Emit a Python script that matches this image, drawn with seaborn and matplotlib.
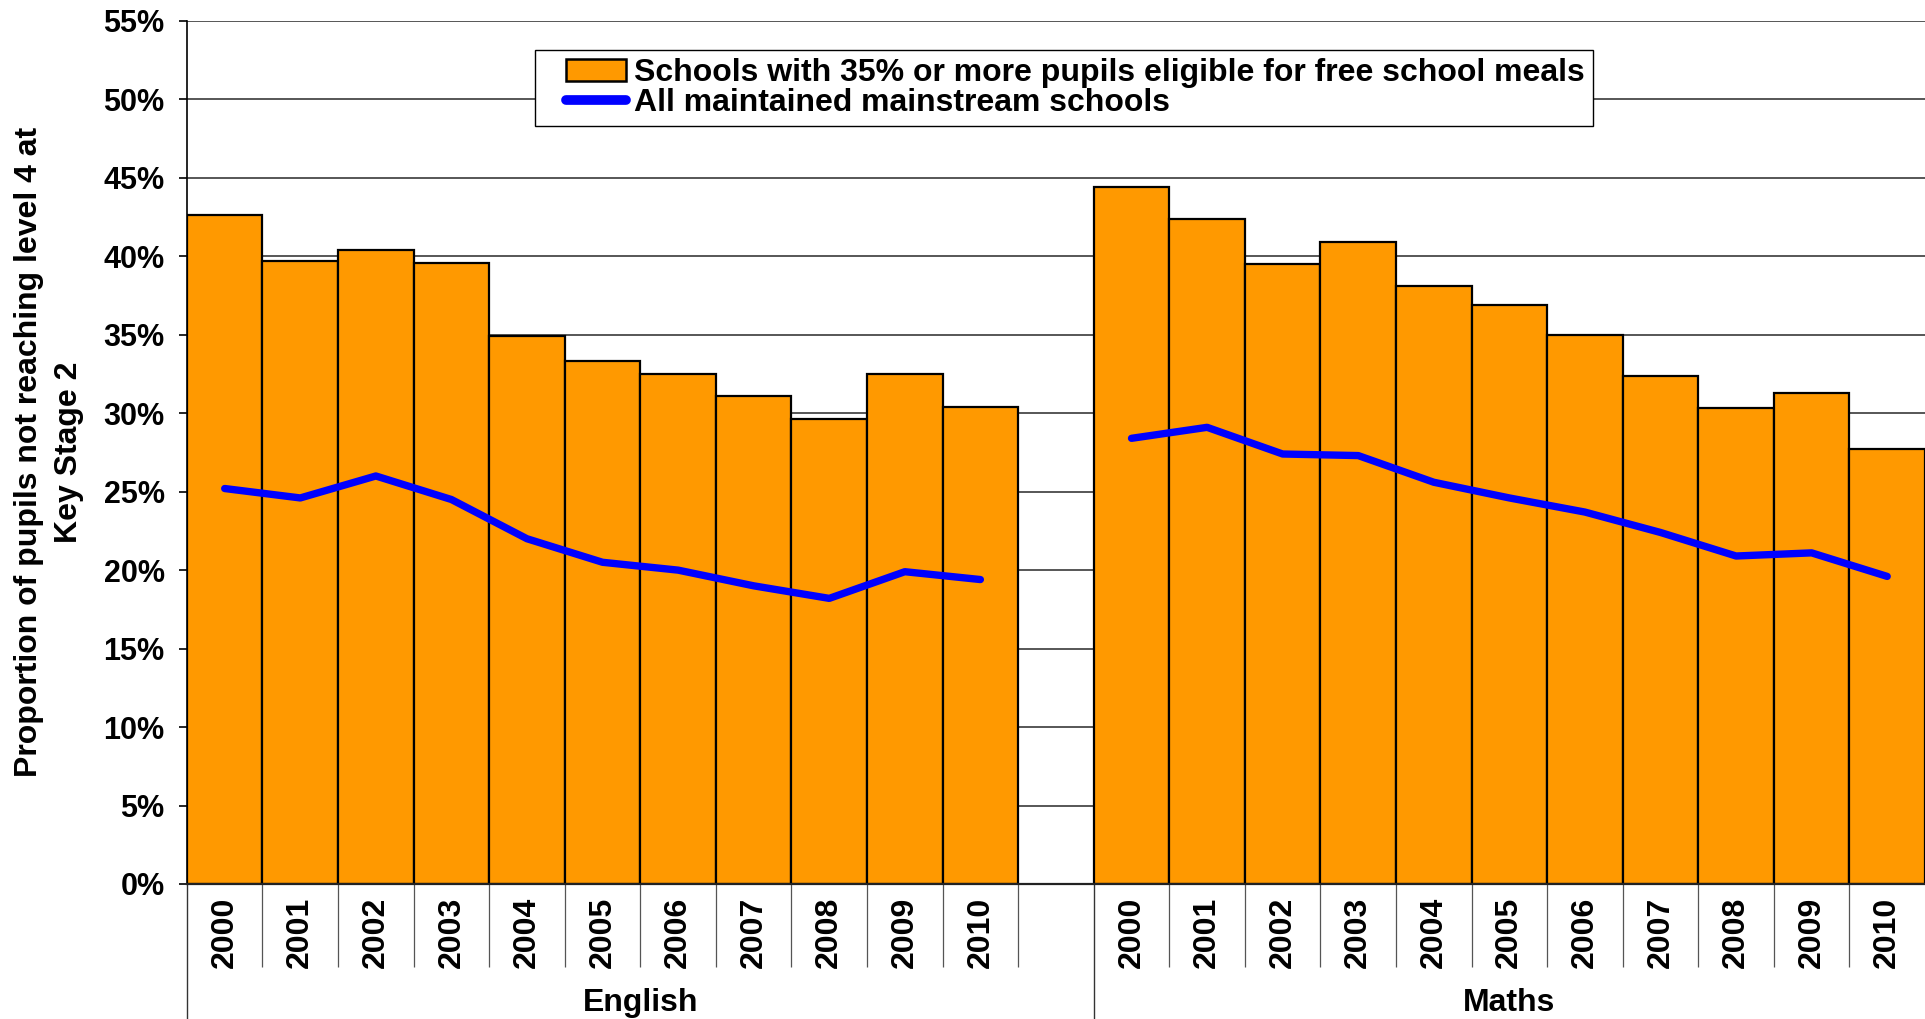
import numpy as np
import pandas as pd
import seaborn as sns
import matplotlib.pyplot as plt
from matplotlib.patches import Patch
from matplotlib.lines import Line2D
from matplotlib.legend_handler import HandlerPatch, HandlerLine2D
from matplotlib.ticker import FuncFormatter

years = ['2000', '2001', '2002', '2003', '2004', '2005', '2006', '2007', '2008', '2009', '2010']
subjects = ['English', 'Maths']

# % of pupils not reaching level 4, schools with 35%+ FSM
english_fsm = [42.6, 39.7, 40.4, 39.6, 34.9, 33.3, 32.5, 31.1, 29.6, 32.5, 30.4]
maths_fsm = [44.4, 42.4, 39.5, 40.9, 38.1, 36.9, 35.0, 32.4, 30.3, 31.3, 27.7]

# all maintained mainstream schools
english_all = [25.2, 24.6, 26.0, 24.5, 22.0, 20.5, 20.0, 19.0, 18.2, 19.9, 19.4]
maths_all = [28.4, 29.1, 27.4, 27.3, 25.6, 24.6, 23.7, 22.4, 20.9, 21.1, 19.6]

bar_label = 'Schools with 35% or more pupils eligible for free school meals'
line_label = 'All maintained mainstream schools'

sns.set_theme(style='white')
plt.rcParams['font.family'] = ['Liberation Sans', 'DejaVu Sans']
plt.rcParams['font.weight'] = 'bold'
for k in ['text.color', 'axes.labelcolor', 'xtick.color', 'ytick.color']:
    plt.rcParams[k] = 'black'

n = len(years)
# one empty slot between the two subjects
pos = list(range(n)) + list(range(n + 1, 2 * n + 1))
df = pd.DataFrame({
    'pos': pos,
    'fsm': english_fsm + maths_fsm,
    'all': english_all + maths_all,
    'subject': [subjects[0]] * n + [subjects[1]] * n,
})

fig = plt.figure(figsize=(19.25, 10.19), dpi=100)
ax = fig.add_axes([0.0971, 0.1325, 0.9029, 0.847])

sns.barplot(data=df, x='pos', y='fsm', native_scale=True, width=1, color='#FF9900',
            saturation=1, edgecolor='black', linewidth=1.6, ax=ax, zorder=2)
sns.lineplot(data=df, x='pos', y='all', units='subject', estimator=None, color='#0000FF',
             linewidth=5.3, ax=ax, zorder=3, legend=False)

ax.set_xlim(-0.5, 2 * n + 0.5)
ax.set_ylim(0, 55)
ax.set_yticks(np.arange(0, 56, 5))
ax.yaxis.set_major_formatter(FuncFormatter(lambda v, p: f'{v:.0f}%'))
ax.yaxis.grid(True, color='#3a3a3a', linewidth=1.2)
ax.set_axisbelow(True)
ax.tick_params(axis='y', left=True, length=6, width=1.2, color='black', labelsize=22, pad=10)
for t in ax.get_yticklabels():
    t.set_fontweight('bold')

# category labels + separator ticks
ax.set_xticks([p + 0.5 for p in range(n)] + [p + 0.5 for p in range(n + 1, 2 * n)])
ax.set_xticklabels([])
ax.tick_params(axis='x', which='major', bottom=True, length=60, width=0.9, color='#555555')
ax.set_xticks(pos, minor=True)
ax.set_xticklabels(years + years, minor=True, rotation=90, fontsize=23, fontweight='bold')
ax.tick_params(axis='x', which='minor', bottom=True, length=0, pad=9)
ax.set_xlabel('')
ax.set_ylabel('')

for s in ['top', 'right']:
    ax.spines[s].set_visible(False)
ax.spines['left'].set_color('black')
ax.spines['left'].set_linewidth(1.2)
ax.spines['bottom'].set_color('#222222')
ax.spines['bottom'].set_linewidth(1.6)

# long separators for the subject groups
for xv in [-0.5, n + 0.5]:
    ax.axvline(xv, ymin=-0.157, ymax=0, color='#333333', linewidth=1.0, clip_on=False)

trans = ax.get_xaxis_transform()
ax.text(n / 2, -0.138, subjects[0], transform=trans, ha='center', va='center',
        fontsize=23, fontweight='bold')
ax.text((3 * n + 1) / 2, -0.138, subjects[1], transform=trans, ha='center', va='center',
        fontsize=23, fontweight='bold')

fig.text(0.0255, 0.556, 'Proportion of pupils not reaching level 4 at\nKey Stage 2',
         rotation=90, ha='center', va='center', multialignment='center',
         fontsize=23, fontweight='bold', linespacing=1.45)

handles = [Patch(facecolor='#FF9900', edgecolor='black', linewidth=1.8),
           Line2D([0], [0], color='#0000FF', linewidth=7, solid_capstyle='round')]
leg = fig.legend(handles, [bar_label, line_label], loc='upper left',
                 bbox_to_anchor=(0.278, 0.951), frameon=True, fancybox=False,
                 edgecolor='black', framealpha=1, prop={'weight': 'bold', 'size': 23},
                 labelspacing=0.0, handlelength=2.6, handletextpad=0.25, borderpad=0.25,
                 borderaxespad=0,
                 handler_map={Patch: HandlerPatch(xpad=0.72), Line2D: HandlerLine2D(xpad=0.72)})
leg.get_frame().set_linewidth(1.0)

fig.savefig('out.png', dpi=100)
